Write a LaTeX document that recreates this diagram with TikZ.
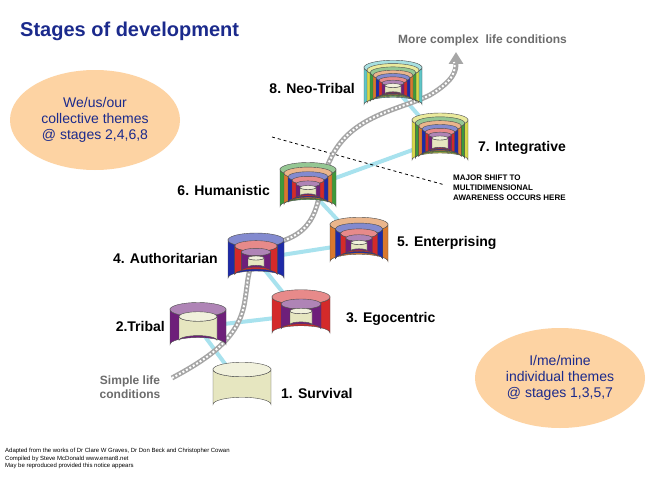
\documentclass[tikz,border=0pt]{standalone}
\usepackage{fontspec}
\setmainfont{Liberation Sans}
\usetikzlibrary{arrows.meta,shapes.geometric}
\definecolor{cbeige}{HTML}{E6E6C0}
\definecolor{cpurple}{HTML}{6E1F7A}
\definecolor{cred}{HTML}{D42A2A}
\definecolor{cblue}{HTML}{1E2AA8}
\definecolor{corange}{HTML}{D9782E}
\definecolor{cgreen}{HTML}{3E9A3A}
\definecolor{cyellow}{HTML}{D8D84A}
\definecolor{ccyan}{HTML}{5EC6C8}
\definecolor{navy}{HTML}{1B2A8C}
\definecolor{blob}{HTML}{FDD3A3}
\definecolor{link}{HTML}{A8E2EE}
\tikzset{
  lbl/.style={font=\bfseries\fontsize{14}{16}\selectfont, inner sep=0pt},
  grey/.style={font=\bfseries\fontsize{12}{14}\selectfont, text=gray!85!black, align=center, inner sep=0pt},
  blobtxt/.style={ellipse, fill=blob, text=navy, font=\fontsize{14}{16}\selectfont, align=center},
  lnk/.style={link, line width=4pt},
  foot/.style={font=\fontsize{6}{7.5}\selectfont, align=left, anchor=north west, inner sep=0pt}
}
\newcommand{\onecyl}[5]{% cx, top y, bottom y, w, color
  \fill[#5, draw=black!70, line width=0.4pt]
    (#1-#4/2,#2) -- (#1-#4/2,#3) arc[start angle=180,end angle=360,x radius=#4/2,y radius=#4/8]
    -- (#1+#4/2,#2) arc[start angle=0,end angle=180,x radius=#4/2,y radius=#4/8] -- cycle;
  \fill[#5!55!white, draw=black!70, line width=0.4pt] (#1,#2) ellipse[x radius=#4/2,y radius=#4/8];
}
\newcommand{\cyl}[6]{%
  \node[inner sep=0pt, minimum width=#4pt, minimum height=#5pt] (#1) at (#2,#3) {};
  \pgfmathsetmacro{\gg}{min(7,18/\nlev)}%
  \pgfmathsetmacro{\st}{min(18,(#4-16)/\nlev)}%
  \foreach \c [count=\i from 0] in {#6}{%
    \pgfmathsetmacro{\ww}{#4-\i*\st}%
    \pgfmathsetmacro{\tt}{#3-#5/2+\i*\gg}%
    \pgfmathsetmacro{\bb}{#3+#5/2-\i*\gg*0.6}%
    \onecyl{#2}{\tt}{\bb}{\ww}{\c}
  }
}
\begin{document}
\begin{tikzpicture}[x=1pt,y=-1pt]
\useasboundingbox (0,0) rectangle (650,487);
\fill[white] (0,0) rectangle (650,487);
\node[anchor=west, text=navy, font=\bfseries\fontsize{20}{22}\selectfont, inner sep=0pt] (title) at (20,31) {Stages of development};
\node[blobtxt, minimum width=170pt, minimum height=100pt] (we) at (95,120) {We/us/our\\collective themes\\@ stages 2,4,6,8};
\node[blobtxt, minimum width=170pt, minimum height=100pt] (me) at (560,378) {I/me/mine\\individual themes\\@ stages 1,3,5,7};
\coordinate (p1) at (242,387); \coordinate (p2) at (198,327); \coordinate (p3) at (301,315);
\coordinate (p4) at (256,259); \coordinate (p5) at (359,243); \coordinate (p6) at (308,188);
\coordinate (p7) at (440,140); \coordinate (p8) at (393,86);
\draw[lnk] (p1) -- (p2) -- (p3) -- (p4) -- (p5) -- (p6) -- (p7) -- (p8);
\coordinate (d1) at (272,137); \coordinate (d2) at (445,185);
\draw[dashed, line width=0.8pt] (d1) -- (d2);
\coordinate (s0) at (172,378); \coordinate (sE) at (456,52);
\draw[gray!70, line width=5pt, -{Triangle[length=12pt,width=14pt]}]
  (s0) .. controls (215,355) and (240,335) .. (245,300)
  .. controls (250,270) and (245,255) .. (285,240)
  .. controls (325,225) and (315,190) .. (330,160)
  .. controls (350,115) and (400,110) .. (430,95)
  .. controls (455,80) and (456,70) .. (sE);
\draw[white, line width=2pt, dash pattern=on 2pt off 2pt]
  (s0) .. controls (215,355) and (240,335) .. (245,300)
  .. controls (250,270) and (245,255) .. (285,240)
  .. controls (325,225) and (315,190) .. (330,160)
  .. controls (350,115) and (400,110) .. (430,95)
  .. controls (455,80) and (456,70) .. (454,62);
\def\nlev{1}\cyl{c1}{242}{387}{58}{35}{cbeige}
\def\nlev{1}\cyl{c2}{198}{327}{56}{35}{cpurple,cbeige}
\def\nlev{2}\cyl{c3}{301}{315}{58}{36}{cred,cpurple,cbeige}
\def\nlev{3}\cyl{c4}{256}{259}{56}{38}{cblue,cred,cpurple,cbeige}
\def\nlev{4}\cyl{c5}{359}{243}{58}{37}{corange,cblue,cred,cpurple,cbeige}
\def\nlev{5}\cyl{c6}{308}{188}{56}{37}{cgreen,corange,cblue,cred,cpurple,cbeige}
\def\nlev{6}\cyl{c7}{440}{140}{56}{40}{cyellow,cgreen,corange,cblue,cred,cpurple,cbeige}
\def\nlev{7}\cyl{c8}{393}{86}{58}{37}{ccyan,cyellow,cgreen,corange,cblue,cred,cpurple,cbeige}
\node[lbl, anchor=west] (l1) at (281,393) {1. Survival};
\node[lbl, anchor=east] (l2) at (165,326) {2.Tribal};
\node[lbl, anchor=west] (l3) at (346,319) {3. Egocentric};
\node[lbl, anchor=east] (l4) at (218,258) {4. Authoritarian};
\node[lbl, anchor=west] (l5) at (397,243) {5. Enterprising};
\node[lbl, anchor=east] (l6) at (270,190) {6. Humanistic};
\node[lbl, anchor=west] (l7) at (478,148) {7. Integrative};
\node[lbl, anchor=east] (l8) at (355,88) {8. Neo-Tribal};
\node[grey] (simple) at (130,387) {Simple life\\conditions};
\node[grey, anchor=west] (complex) at (398,40) {More complex\ \ life conditions};
\node[font=\bfseries\fontsize{8}{10}\selectfont, align=left, anchor=north west, inner sep=0pt] (shift) at (453,175) {MAJOR SHIFT TO\\MULTIDIMENSIONAL\\AWARENESS OCCURS HERE};
\node[foot] (ft) at (5,448) {Adapted from the works of Dr Clare W Graves, Dr Don Beck and Christopher Cowan\\Compiled by Steve McDonald www.eman8.net\\May be reproduced provided this notice appears};
\end{tikzpicture}
\end{document}
